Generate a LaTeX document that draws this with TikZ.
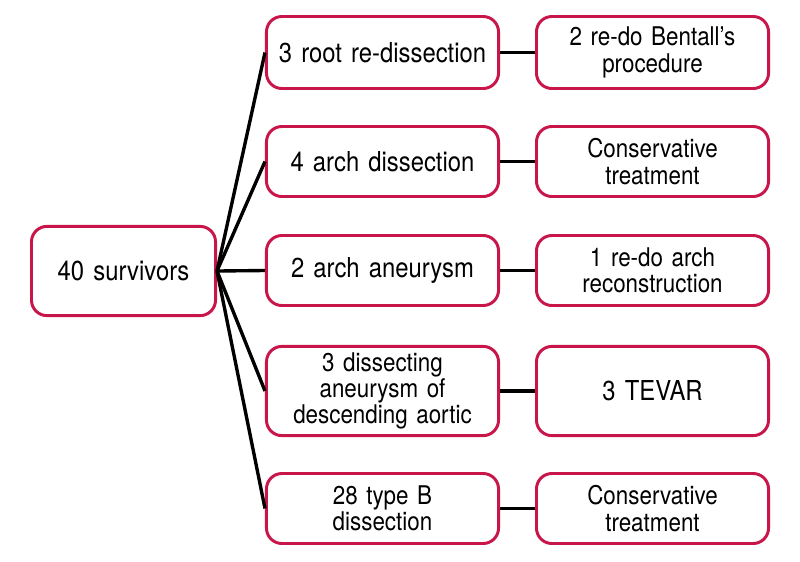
\documentclass[tikz,border=0pt]{standalone}
\usepackage{fontspec}
\setmainfont{TeX Gyre Heros}[FakeStretch=0.87]
\definecolor{boxred}{RGB}{200,22,75}

\begin{document}
\begin{tikzpicture}[x=0.025cm,y=-0.025cm,
    box/.style={draw=boxred,line width=2.1pt,rounded corners=11pt,
      align=center,inner sep=0pt,text width=150pt,
      font=\fontsize{19.5}{18.5}\selectfont},
    midbox/.style={box,minimum width=5.8cm},
    multi/.style={font=\fontsize{18.3}{18.7}\selectfont},
    link/.style={line width=2.4pt,black}]
  \useasboundingbox (0,0) rectangle (800,561);

  %root
  \node[box,text width=120pt,minimum width=4.6cm,
        minimum height=2.23cm] (surv) at (123.5,271) {40 survivors};

  %middle column
  \node[midbox,minimum height=1.8cm] (r1) at (382.5,52.5) {3 root re-dissection};
  \node[midbox,minimum height=1.75cm] (r2) at (382.5,161.5) {4 arch dissection};
  \node[midbox,minimum height=1.75cm] (r3) at (382.5,270.5) {2 arch aneurysm};
  \node[midbox,multi,minimum height=2.23cm] (r4) at (382.5,391) {3 dissecting\\aneurysm of\\descending aortic};
  \node[midbox,multi,minimum height=1.75cm] (r5) at (382.5,508.5) {28 type B\\dissection};

  %right column
  \node[midbox,multi,minimum height=1.8cm] (t1) at (652.5,52.5) {2 re-do Bentall’s\\procedure};
  \node[midbox,multi,minimum height=1.75cm] (t2) at (652.5,161.5) {Conservative\\treatment};
  \node[midbox,multi,minimum height=1.75cm] (t3) at (652.5,270.5) {1 re-do arch\\reconstruction};
  \node[midbox,minimum height=2.23cm] (t4) at (652.5,391) {3 TEVAR};
  \node[midbox,multi,minimum height=1.75cm] (t5) at (652.5,508.5) {Conservative\\treatment};

  %connectors
  \foreach \i in {1,...,5} {
    \draw[link] (surv.east) -- (r\i.west);
    \draw[link] (r\i.east) -- (t\i.west);
  }
\end{tikzpicture}
\end{document}
